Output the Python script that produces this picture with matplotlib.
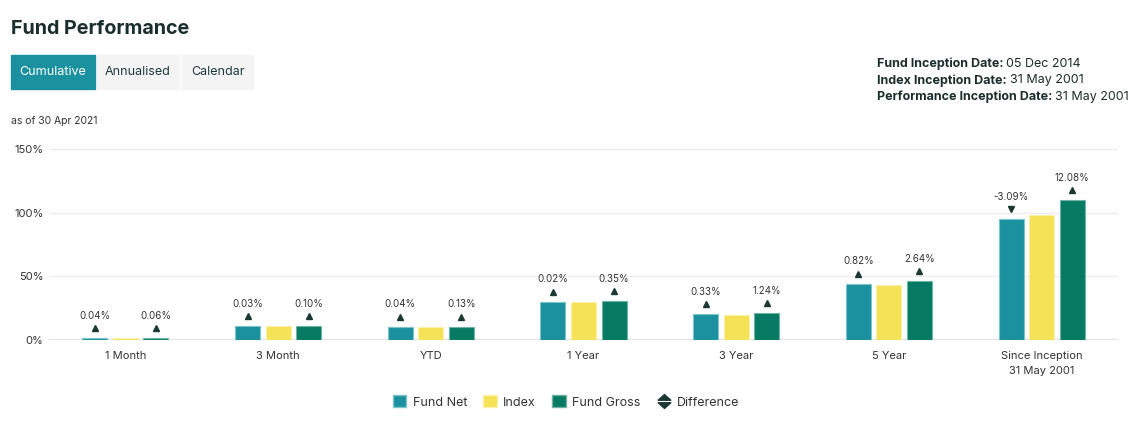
import matplotlib
matplotlib.use("Agg")
import matplotlib.pyplot as plt
import matplotlib.transforms as mtransforms
import numpy as np
from matplotlib.patches import Patch, Rectangle
from matplotlib.lines import Line2D
from matplotlib.path import Path

plt.rcParams['font.family'] = ['Inter', 'DejaVu Sans']

categories = ['1 Month', '3 Month', 'YTD', '1 Year', '3 Year', '5 Year', 'Since Inception\n31 May 2001']
fund_net = [1.44, 10.93, 10.34, 30.22, 20.33, 44.32, 94.81]
index_vals = [1.40, 10.90, 10.30, 30.20, 20.00, 43.50, 97.90]
fund_gross = [1.46, 11.00, 10.43, 30.55, 21.24, 46.14, 109.98]
diff_net = [0.04, 0.03, 0.04, 0.02, 0.33, 0.82, -3.09]
diff_gross = [0.06, 0.10, 0.13, 0.35, 1.24, 2.64, 12.08]
y_ticks = [0, 50, 100, 150]

c_net = '#1b919f'
c_idx = '#f5e257'
c_gross = '#067a62'
c_dark = '#1c3832'
c_text = '#333333'

fig = plt.figure(figsize=(11.38, 4.30), dpi=100)
ax = fig.add_axes([49/1138, 1 - 340/430, 1069/1138, 191/430])

x = np.arange(len(categories))
w = 0.164
step = 0.2
ax.bar(x - step, fund_net, w, color=c_net, edgecolor='#7fc3cb', linewidth=0.8, zorder=3)
ax.bar(x, index_vals, w, color=c_idx, edgecolor='#fbf0a8', linewidth=0.8, zorder=3)
ax.bar(x + step, fund_gross, w, color=c_gross, edgecolor='#6fb3a5', linewidth=0.8, zorder=3)

# difference markers sit a few pixels above each bar
shift = ax.transData + mtransforms.ScaledTranslation(0, 10/100, fig.dpi_scale_trans)
for xs, vals, diffs in [(x - step, fund_net, diff_net), (x + step, fund_gross, diff_gross)]:
    for xi, v, d in zip(xs, vals, diffs):
        mk = '^' if d >= 0 else 'v'
        ax.plot([xi], [v], marker=mk, markersize=5, color=c_dark, linestyle='none',
                transform=shift, clip_on=False, zorder=4)
        ax.annotate(f'{d:.2f}%', xy=(xi, v), xytext=(0, 12.5), textcoords='offset points',
                    ha='center', va='bottom', fontsize=7, color=c_text, annotation_clip=False)

ax.set_xlim(-0.5, len(categories) - 0.5)
ax.set_ylim(0, 150)
ax.set_yticks(y_ticks)
ax.set_yticklabels([f'{t}%' for t in y_ticks], fontsize=8, color=c_text)
ax.set_xticks(x)
ax.set_xticklabels(categories, fontsize=8, color=c_text, linespacing=1.6, va='top')
ax.tick_params(length=0, pad=8)
ax.tick_params(axis='y', pad=4)
for s in ax.spines.values():
    s.set_visible(False)
for t in y_ticks[1:]:
    ax.axhline(t, color='#ececec', linewidth=1, zorder=1)
ax.axhline(0, color='#e2e2e2', linewidth=2.2, zorder=2)

# header
fig.text(11/1138, 1 - 29/430, 'Fund Performance', fontsize=14.2, fontweight='bold',
         color='#1a2e2b', va='center')
tabs = [('Cumulative', 11, 95, True), ('Annualised', 97, 179, False), ('Calendar', 182, 253, False)]
for label, x0, x1, active in tabs:
    fig.patches.append(Rectangle((x0/1138, 1 - 89/430), (x1 - x0)/1138, 34/430,
                                 transform=fig.transFigure, color=c_net if active else '#f4f4f4',
                                 zorder=0))
    fig.text((x0 + x1)/2/1138, 1 - 72/430, label, fontsize=9, ha='center', va='center',
             color='white' if active else '#1f3a40')
fig.text(11/1138, 1 - 121/430, 'as of 30 Apr 2021', fontsize=7.5, color=c_text, va='center')

info = [('Fund Inception Date:', '05 Dec 2014'),
        ('Index Inception Date:', '31 May 2001'),
        ('Performance Inception Date:', '31 May 2001')]
for i, (lab, val) in enumerate(info):
    yy = 1 - (64 + 16.5*i)/430
    t = fig.text(877/1138, yy, lab + ' ', fontsize=9, fontweight='bold', color='#1a2e2b', va='center')
    fig.canvas.draw()
    bb = t.get_window_extent()
    fig.text(bb.x1/1138, yy, val, fontsize=9, color='#1a2e2b', va='center')

# legend
updown = Path([(-1, 0.2), (1, 0.2), (0, 1.1), (-1, 0.2),
               (-1, -0.2), (1, -0.2), (0, -1.1), (-1, -0.2)],
              [Path.MOVETO, Path.LINETO, Path.LINETO, Path.CLOSEPOLY,
               Path.MOVETO, Path.LINETO, Path.LINETO, Path.CLOSEPOLY])
handles = [Patch(facecolor=c_net, edgecolor='#7fc3cb'),
           Patch(facecolor=c_idx, edgecolor='#fbf0a8'),
           Patch(facecolor=c_gross, edgecolor='#6fb3a5'),
           Line2D([], [], marker=updown, markersize=10, color=c_dark, linestyle='none')]
fig.legend(handles, ['Fund Net', 'Index', 'Fund Gross', 'Difference'], loc='center',
           bbox_to_anchor=(566/1138, 1 - 402/430), ncol=4, frameon=False, fontsize=9,
           handlelength=1.1, handleheight=1.1, handletextpad=0.5, columnspacing=1.3,
           labelcolor='#333333')

fig.savefig('out.png', dpi=100)
